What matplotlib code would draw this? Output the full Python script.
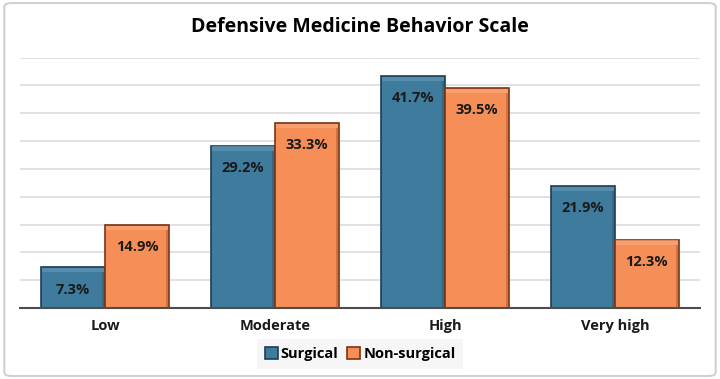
import matplotlib.pyplot as plt
from matplotlib.patches import Rectangle, FancyBboxPatch
import numpy as np

plt.rcParams['font.family'] = ['Open Sans', 'DejaVu Sans']

# Dados
categorias = ['Low', 'Moderate', 'High', 'Very high']
cirurgico = [7.3, 29.2, 41.7, 21.9]
nao_cirurgico = [14.9, 33.3, 39.5, 12.3]
series = ['Surgical', 'Non-surgical']

cores = ['#3f7b9c', '#f58f57']
bordas = ['#1e3d52', '#7a3412']
realce = ['#5f95b5', '#f9a677']

fig = plt.figure(figsize=(7.2, 3.79), dpi=100)
fig.patch.set_facecolor('white')

# Moldura da figura
fig.patches.append(FancyBboxPatch((0.006, 0.008), 0.988, 0.984, boxstyle='round,pad=0,rounding_size=0.01',
                                  transform=fig.transFigure, facecolor='none', edgecolor='#d0d0d0',
                                  linewidth=1.5))

ax = fig.add_axes([0.028, 0.187, 0.944, 0.661])
x = np.arange(len(categorias))
largura = 0.376

for valores, desloc, cor, borda, luz, nome in zip([cirurgico, nao_cirurgico], [-largura / 2, largura / 2],
                                                 cores, bordas, realce, series):
    barras = ax.bar(x + desloc, valores, largura, color=cor, edgecolor=borda, linewidth=1.2,
                    label=nome, zorder=3)
    for b, v in zip(barras, valores):
        bx, bw, bh = b.get_x(), b.get_width(), b.get_height()
        # efeito de chanfro simples no topo
        ax.add_patch(Rectangle((bx + 0.006, bh - 0.9), bw - 0.012, 0.75, facecolor=luz,
                               edgecolor='none', zorder=4, alpha=0.7))
        ax.add_patch(Rectangle((bx + bw - 0.016, 0.1), 0.01, bh - 1.0, facecolor=borda,
                               edgecolor='none', zorder=4, alpha=0.3))
        ax.annotate(f'{v}%', (bx + bw / 2, bh), xytext=(0, -16), textcoords='offset points',
                    ha='center', va='center', fontsize=10.5, fontweight='bold', color='#1a1a1a', zorder=5)

ax.set_xlim(-0.5, 3.5)
ax.set_ylim(0, 45)
ax.set_yticks(np.arange(5, 46, 5))
ax.yaxis.grid(True, color='#d9d9d9', linewidth=1.1, zorder=0)
ax.tick_params(axis='y', left=False, labelleft=False)
ax.tick_params(axis='x', length=0, pad=8)
ax.set_xticks(x)
ax.set_xticklabels(categorias, fontsize=10.5, fontweight='bold', color='#1a1a1a')
for lado in ['top', 'right', 'left']:
    ax.spines[lado].set_visible(False)
ax.spines['bottom'].set_color('#4d4d4d')
ax.spines['bottom'].set_linewidth(1.5)
ax.spines['bottom'].set_zorder(6)

fig.text(0.5, 0.928, 'Defensive Medicine Behavior Scale', ha='center', va='center',
         fontsize=14, fontweight='bold', color='black')

leg = fig.legend(loc='center', bbox_to_anchor=(0.5, 0.066), ncol=2, frameon=True,
                 prop={'size': 10.5, 'weight': 'bold'}, handlelength=0.9, handleheight=0.9,
                 handletextpad=0.2, columnspacing=0.6, borderpad=0.55, fancybox=False)
leg.get_frame().set_facecolor('#f4f4f4')
leg.get_frame().set_edgecolor('none')

plt.savefig('out.png', dpi=100)
